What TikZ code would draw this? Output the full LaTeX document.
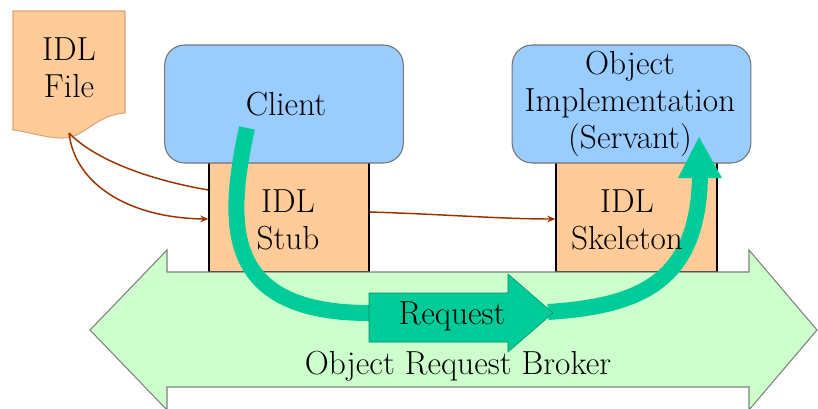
\documentclass[tikz,border=0pt]{standalone}
\usepackage{fontspec}
\usetikzlibrary{arrows.meta,calc}
\definecolor{idlorange}{HTML}{FFCC99}
\definecolor{idledge}{HTML}{D9A57A}
\definecolor{objblue}{HTML}{99CCFF}
\definecolor{orbgreen}{HTML}{CCFFCC}
\definecolor{flowgreen}{HTML}{00CC99}
\definecolor{linkbrown}{HTML}{993300}
\tikzset{
  txt/.style={inner sep=0pt, align=center, text=black},
  objbox/.style={draw=gray!90!black, line width=0.8pt, fill=objblue,
    rounded corners=15pt, minimum width=179pt, minimum height=88.5pt, inner sep=0pt},
  stubbox/.style={draw=black, line width=1pt, fill=idlorange,
    minimum width=120pt, minimum height=91.5pt, inner sep=0pt},
  idllink/.style={draw=linkbrown, line width=1.1pt},
  idlarrow/.style={idllink, -{Stealth[length=6pt,width=5pt]}},
  flow/.style={draw=flowgreen, line width=12pt},
}
\begin{document}
\begin{tikzpicture}[x=0.75pt, y=-0.75pt, font=\rmfamily\fontsize{25}{27.5}\selectfont]
  \clip (0,0) rectangle (818,408);

  % IDL source file (document shape)
  \draw[fill=idlorange, draw=idledge, line width=0.8pt]
    (13,11) -- (125,11) -- (125,113)
    .. controls (95,115) and (85,138) .. (63,138)
    .. controls (45,138) and (30,132) .. (13,130) -- cycle;
  \node[txt] (file) at (69,68) {IDL\\File};
  \coordinate (fileout) at (69,133);

  % stub and skeleton
  \node[stubbox] (stub) at (289,211) {};
  \node[stubbox, minimum width=120.75pt] (skel) at (636.5,211) {};

  % client and servant
  \node[objbox] (client) at (284,104) {};
  \node[objbox] (servant) at (631.5,104) {};

  % object request broker: double-headed arrow
  \draw[fill=orbgreen, draw=gray, line width=0.8pt]
    (90,330) -- (167,250) -- (167,272) -- (749,272) -- (749,250) -- (817,330)
    -- (749,410) -- (749,387) -- (167,387) -- (167,410) -- cycle;
  \node[txt] (orb) at (458,366) {Object Request Broker};

  % IDL compilation links
  \draw[idllink] (fileout) .. controls (95,160) and (150,180) .. ([yshift=15.75pt]stub.west);
  \draw[idlarrow] (fileout) .. controls (75,185) and (130,218) .. ([yshift=-6pt]stub.west);
  \draw[idlarrow] ([yshift=-0.75pt]stub.east) .. controls (440,214) and (500,219) .. ([yshift=-6pt]skel.west);

  % request flow
  \coordinate (flowstart) at (247,128);
  \coordinate (reqin) at (372,313);
  \coordinate (reqout) at (548,312);
  \coordinate (flowend) at (700,176);
  \draw[flow] (flowstart) .. controls (226,225) and (222,314) .. (reqin);
  \draw[flow] (reqout) .. controls (640,306) and (698,282) .. (flowend);
  \fill[flowgreen] (678,178) -- (699,137) -- (722,178) -- cycle;

  \fill[flowgreen] (369,293) -- (508,293) -- (508,274) -- (553,313)
    -- (508,352) -- (508,342) -- (369,342) -- cycle;
  \draw[draw=flowgreen!70!black, line width=0.4pt] (369,293) -- (508,293) -- (508,274) -- (553,313)
    -- (508,352) -- (508,342) -- (369,342) -- cycle;
  \node[txt] (req) at (452,316) {Request};

  % box labels
  \node[txt] (clientlbl) at (286,104) {Client};
  \node[txt] (servantlbl) at (630,104) {Object\\Implementation\\(Servant)};
  \node[txt] (stublbl) at (288,220) {IDL\\Stub};
  \node[txt] (skellbl) at (627,220) {IDL\\Skeleton};
\end{tikzpicture}
\end{document}
